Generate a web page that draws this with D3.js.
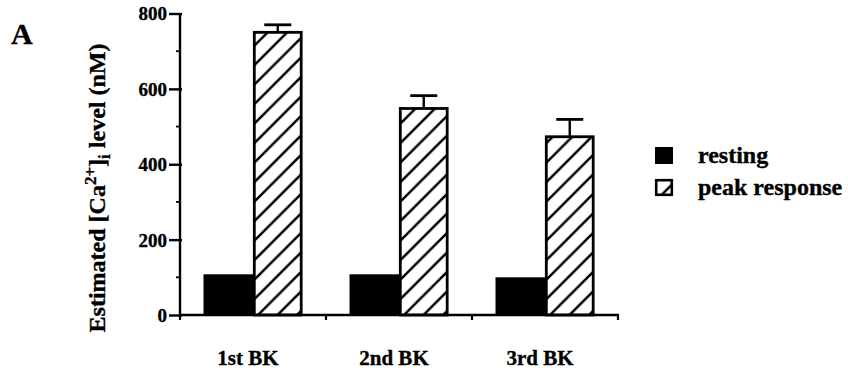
<!DOCTYPE html>
<html>
<head>
<meta charset="utf-8">
<script src="https://cdn.jsdelivr.net/npm/d3@7"></script>
<style>
  html, body { margin: 0; padding: 0; background: #fff; }
  svg { display: block; }
  text { font-family: "Liberation Serif", "Times New Roman", serif; font-weight: bold; fill: #000; stroke: #000; stroke-width: 0.35px; }
</style>
</head>
<body>
<svg id="chart" width="848" height="373"></svg>
<script>
// Stimulation rounds (x categories)
const categories = ["1st BK", "2nd BK", "3rd BK"];
// Series shown in each group
const seriesNames = ["resting", "peak response"];
// Mean [Ca2+]i (nM)
const restingValues = [108, 108, 100];
const peakValues = [750, 548, 473];
// Upper error (SEM) for the peak response bars
const peakErrors = [20, 34, 46];
// Y axis ticks
const yTicks = [0, 200, 400, 600, 800];
const yMinorTicks = [100, 300, 500, 700];

const svg = d3.select("#chart");

// Diagonal hatch used for the peak response bars
const defs = svg.append("defs");
const hatch = defs.append("pattern")
  .attr("id", "hatch")
  .attr("patternUnits", "userSpaceOnUse")
  .attr("width", 19.5).attr("height", 19.5)
  .attr("x", 0).attr("y", 3);
hatch.append("path")
  .attr("d", "M-2,21.5 L21.5,-2 M-6,6 L6,-6 M13.5,25.5 L25.5,13.5")
  .attr("stroke", "#000").attr("stroke-width", 2.5).attr("fill", "none");

const x = d3.scaleBand().domain(categories).range([180, 618]).paddingInner(0).paddingOuter(0);
const xSub = d3.scaleBand().domain(seriesNames).range([0, x.bandwidth()]).paddingInner(0).paddingOuter(0.475);
const y = d3.scaleLinear().domain([0, 800]).range([315, 13.5]);

const rows = categories.map((c, i) => ({
  cat: c, resting: restingValues[i], peak: peakValues[i], err: peakErrors[i]
}));

const groups = svg.append("g").selectAll("g")
  .data(rows).join("g")
  .attr("transform", d => `translate(${x(d.cat)},0)`);

// Resting bars (solid black)
groups.append("rect")
  .attr("x", xSub("resting"))
  .attr("y", d => y(d.resting))
  .attr("width", xSub.bandwidth())
  .attr("height", d => y(0) - y(d.resting))
  .attr("fill", "#000");

// Error bars above the peak bars
groups.append("line")
  .attr("x1", xSub("peak response") + xSub.bandwidth() / 2)
  .attr("x2", xSub("peak response") + xSub.bandwidth() / 2)
  .attr("y1", d => y(d.peak))
  .attr("y2", d => y(d.peak + d.err))
  .attr("stroke", "#000").attr("stroke-width", 2.4);
groups.append("line")
  .attr("x1", xSub("peak response") + xSub.bandwidth() / 2 - 13.5)
  .attr("x2", xSub("peak response") + xSub.bandwidth() / 2 + 13.5)
  .attr("y1", d => y(d.peak + d.err))
  .attr("y2", d => y(d.peak + d.err))
  .attr("stroke", "#000").attr("stroke-width", 2.8);

// Peak response bars (hatched, outlined)
groups.append("rect")
  .attr("x", xSub("peak response") + 1.3)
  .attr("y", d => y(d.peak))
  .attr("width", xSub.bandwidth() - 2.6)
  .attr("height", d => y(0) - y(d.peak))
  .attr("fill", "url(#hatch)")
  .attr("stroke", "#000").attr("stroke-width", 2.8);

// Y axis with major and minor ticks
const yAxis = svg.append("g")
  .attr("transform", "translate(180,0)")
  .call(d3.axisLeft(y).tickValues(yTicks).tickSize(11).tickPadding(2).tickFormat(d3.format("d")));
yAxis.select(".domain").attr("d", `M0,${y(800)}V${y(0)}`).attr("stroke-width", 2.4);
yAxis.selectAll(".tick line").attr("stroke-width", 2.4).attr("x2", -11).attr("x1", 2);
yAxis.selectAll(".tick text")
  .style("font-size", "19px").attr("dy", "0.34em");
svg.append("g").attr("transform", "translate(180,0)")
  .selectAll("line").data(yMinorTicks).join("line")
  .attr("x1", -4).attr("x2", 0)
  .attr("y1", d => y(d)).attr("y2", d => y(d))
  .attr("stroke", "#000").attr("stroke-width", 1.8);

// X axis: baseline with boundary ticks, labels below
const xAxis = svg.append("g").attr("transform", `translate(0,${y(0)})`);
xAxis.append("line")
  .attr("x1", 180).attr("x2", 619).attr("y1", 0).attr("y2", 0)
  .attr("stroke", "#000").attr("stroke-width", 2.6);
const bounds = categories.map(c => x(c)).concat([x(categories[categories.length - 1]) + x.bandwidth()]);
xAxis.selectAll("line.b").data(bounds).join("line").attr("class", "b")
  .attr("x1", d => d).attr("x2", d => d).attr("y1", 0).attr("y2", 5)
  .attr("stroke", "#000").attr("stroke-width", 2.2);
xAxis.selectAll("text").data(categories).join("text")
  .attr("x", d => x(d) + x.bandwidth() / 2 - 5)
  .attr("y", 50)
  .attr("text-anchor", "middle")
  .style("font-size", "21px")
  .text(d => d);

// Y axis title
const yTitle = svg.append("text")
  .attr("transform", "translate(105,188) rotate(-90)")
  .attr("text-anchor", "middle")
  .style("font-size", "24px");
yTitle.append("tspan").text("Estimated [Ca");
yTitle.append("tspan").attr("dy", -9).style("font-size", "17px").text("2+");
yTitle.append("tspan").attr("dy", 9).text("]");
yTitle.append("tspan").attr("dy", 5).style("font-size", "17px").text("i");
yTitle.append("tspan").attr("dy", -5).text(" level (nM)");

// Panel letter
svg.append("text").attr("x", 11).attr("y", 44).style("font-size", "30px").text("A");

// Legend
const legend = svg.append("g");
const legendRows = [
  { name: seriesNames[0], fill: "#000", stroke: "none" },
  { name: seriesNames[1], fill: "url(#hatch)", stroke: "#000" }
];
const lg = legend.selectAll("g").data(legendRows).join("g")
  .attr("transform", (d, i) => `translate(655,${147 + i * 32})`);
lg.append("rect")
  .attr("x", d => d.stroke === "none" ? 0 : 1.2)
  .attr("y", d => d.stroke === "none" ? 0 : 1.2)
  .attr("width", d => d.stroke === "none" ? 18 : 15.6)
  .attr("height", d => d.stroke === "none" ? 17 : 14.6)
  .attr("fill", d => d.fill).attr("stroke", d => d.stroke).attr("stroke-width", 2.6);
lg.append("text").attr("x", 43).attr("y", 16)
  .style("font-size", "24px")
  .text(d => d.name);
</script>
</body>
</html>
